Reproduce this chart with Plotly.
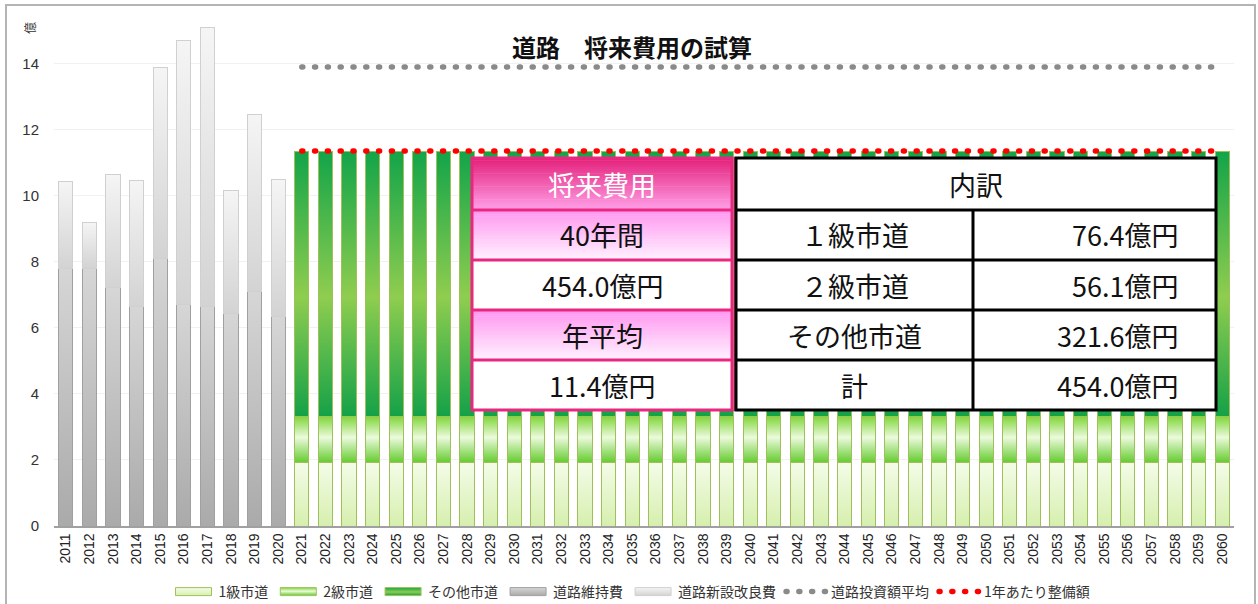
import json
import plotly.graph_objects as go

# ---- data -------------------------------------------------------------
past_years = ["2011", "2012", "2013", "2014", "2015", "2016", "2017", "2018", "2019", "2020"]
future_years = [str(y) for y in range(2021, 2061)]

# actual spending 2011-2020 (億円)
maintenance = [7.81, 7.81, 7.21, 6.66, 8.11, 6.72, 6.66, 6.42, 7.11, 6.33]
new_construction = [2.61, 1.39, 3.43, 3.80, 5.77, 7.99, 8.43, 3.74, 5.35, 4.17]

# projected annual cost 2021-2060 (億円)
grade1 = [1.91, 1.91, 1.91, 1.91, 1.91, 1.91, 1.91, 1.91, 1.91, 1.91,
          1.91, 1.91, 1.91, 1.91, 1.91, 1.91, 1.91, 1.91, 1.91, 1.91,
          1.91, 1.91, 1.91, 1.91, 1.91, 1.91, 1.91, 1.91, 1.91, 1.91,
          1.91, 1.91, 1.91, 1.91, 1.91, 1.91, 1.91, 1.91, 1.91, 1.91]
grade2 = [1.4015, 1.4015, 1.4015, 1.4015, 1.4015, 1.4015, 1.4015, 1.4015, 1.4015, 1.4015,
          1.4015, 1.4015, 1.4015, 1.4015, 1.4015, 1.4015, 1.4015, 1.4015, 1.4015, 1.4015,
          1.4015, 1.4015, 1.4015, 1.4015, 1.4015, 1.4015, 1.4015, 1.4015, 1.4015, 1.4015,
          1.4015, 1.4015, 1.4015, 1.4015, 1.4015, 1.4015, 1.4015, 1.4015, 1.4015, 1.4015]
other_roads = [8.0395, 8.0395, 8.0395, 8.0395, 8.0395, 8.0395, 8.0395, 8.0395, 8.0395, 8.0395,
               8.0395, 8.0395, 8.0395, 8.0395, 8.0395, 8.0395, 8.0395, 8.0395, 8.0395, 8.0395,
               8.0395, 8.0395, 8.0395, 8.0395, 8.0395, 8.0395, 8.0395, 8.0395, 8.0395, 8.0395,
               8.0395, 8.0395, 8.0395, 8.0395, 8.0395, 8.0395, 8.0395, 8.0395, 8.0395, 8.0395]

investment_average = 13.9  # 道路投資額平均

# summary figures for the table
grade1_total = sum(grade1)
grade2_total = sum(grade2)
other_total = sum(other_roads)
grand_total = grade1_total + grade2_total + other_total
n_years = len(future_years)
annual_cost = grand_total / n_years

# ---- layout geometry ---------------------------------------------------
W, H = 1258, 604
ML, MR, MT, MB = 54, 24, 24, 78
PW, PH = W - ML - MR, H - MT - MB
Y_MAX = 15.2


def fx(px):
    return (px - ML) / PW


def fy(py):
    return (H - MB - py) / PH


TEXT_FONT = "Noto Sans CJK JP"
PINK = "rgb(233,38,128)"

# gradient stops for bar fills: 1級, 2級, その他, 維持費, 新設改良費
bar_gradients = [
    [[0, "#f4fce8"], [1, "#d6efae"]],
    [[0, "#7fd63a"], [0.45, "#ecfadc"], [1, "#62ca2c"]],
    [[0, "#12a449"], [0.55, "#8fcd4f"], [1, "#14a148"]],
    [[0, "#d6d6d6"], [1, "#aaaaaa"]],
    [[0, "#f5f5f5"], [1, "#d3d3d3"]],
]

fig = go.Figure()

green_edge = dict(color="rgb(160,192,92)", width=1)
gray_edge = dict(color="#a0a0a0", width=1)

fig.add_trace(go.Bar(x=future_years, y=grade1, name="1級市道",
                     marker=dict(color="#e6f6c8", line=green_edge)))
fig.add_trace(go.Bar(x=future_years, y=grade2, name="2級市道",
                     marker=dict(color="#a8e070", line=green_edge)))
fig.add_trace(go.Bar(x=future_years, y=other_roads, name="その他市道",
                     marker=dict(color="#3fae4a", line=green_edge)))
fig.add_trace(go.Bar(x=past_years, y=maintenance, name="道路維持費",
                     marker=dict(color="#c4c4c4", line=gray_edge)))
fig.add_trace(go.Bar(x=past_years, y=new_construction, name="道路新設改良費",
                     marker=dict(color="#e6e6e6", line=dict(color="#d0d0d0", width=1))))

fig.add_trace(go.Scatter(x=future_years, y=[investment_average] * n_years, name="道路投資額平均",
                         mode="lines", line=dict(color="#8a8a8a", width=5.5, dash="1px,11.8px")))
fig.add_trace(go.Scatter(x=future_years, y=[annual_cost] * n_years, name="1年あたり整備額",
                         mode="lines", line=dict(color="#ff0000", width=5.5, dash="1px,11.8px")))

shapes = []
annotations = []

# outer frame of the chart
shapes.append(dict(type="rect", xref="paper", yref="paper",
                   x0=fx(6), x1=fx(1255), y0=fy(612), y1=fy(5),
                   line=dict(color="#b4b4b4", width=2), fillcolor="rgba(0,0,0,0)", layer="below"))


def mix(c1, c2, t):
    return "rgb(%d,%d,%d)" % tuple(round(a + (b - a) * t) for a, b in zip(c1, c2))


def gradient_cell(x0, y0, x1, y1, top, bottom, n=24):
    h = (y1 - y0) / n
    for k in range(n):
        shapes.append(dict(type="rect", xref="paper", yref="paper", layer="above",
                           x0=fx(x0), x1=fx(x1), y0=fy(y0 + (k + 1) * h + 0.6), y1=fy(y0 + k * h),
                           line=dict(width=0), fillcolor=mix(top, bottom, (k + 0.5) / n)))


def rect(x0, y0, x1, y1, color, width, fill="rgba(0,0,0,0)"):
    shapes.append(dict(type="rect", xref="paper", yref="paper", layer="above",
                       x0=fx(x0), x1=fx(x1), y0=fy(y1), y1=fy(y0),
                       line=dict(color=color, width=width), fillcolor=fill))


def hline(x0, x1, y, color, width):
    shapes.append(dict(type="line", xref="paper", yref="paper", layer="above",
                       x0=fx(x0), x1=fx(x1), y0=fy(y), y1=fy(y),
                       line=dict(color=color, width=width)))


def vline(x, y0, y1, color, width):
    shapes.append(dict(type="line", xref="paper", yref="paper", layer="above",
                       x0=fx(x), x1=fx(x), y0=fy(y0), y1=fy(y1),
                       line=dict(color=color, width=width)))


def text(x, y, s, color="#111111", size=27, anchor="center"):
    annotations.append(dict(xref="paper", yref="paper", x=fx(x), y=fy(y), text=s,
                            showarrow=False, xanchor=anchor, yanchor="middle",
                            font=dict(family=TEXT_FONT, size=size, color=color)))


# left block: 将来費用
row_edges = [158, 210, 260, 310, 360, 410]
LX0, LX1 = 472, 732
rect(LX0, 158, LX1, 410, PINK, 1, fill="white")
gradient_cell(LX0, 158, LX1, 210, (228, 32, 122), (255, 160, 232))
gradient_cell(LX0, 210, LX1, 260, (255, 150, 240), (255, 242, 255))
gradient_cell(LX0, 310, LX1, 360, (255, 150, 240), (255, 242, 255))
rect(LX0, 158, LX1, 410, PINK, 3)
for yy in row_edges[1:-1]:
    hline(LX0, LX1, yy, PINK, 3)
vline(734.5, 157, 411, PINK, 1.5)

# right block: 内訳
RX0, RX1, RMID = 736, 1216, 973
rect(RX0, 158, RX1, 410, "black", 3, fill="white")
for yy in row_edges[1:-1]:
    hline(RX0, RX1, yy, "black", 3)
vline(RMID, 210, 410, "black", 3)

LC = (LX0 + LX1) / 2
MC = (RX0 + RMID) / 2
text(LC, 184, "将来費用", color="white")
text(LC, 235, f"{n_years}年間")
text(LC, 285, f"{grand_total:.1f}億円")
text(LC, 335, "年平均")
text(LC, 385, f"{annual_cost:.1f}億円")

text((RX0 + RX1) / 2, 184, "内訳")
breakdown = [("１級市道", grade1_total), ("２級市道", grade2_total),
             ("その他市道", other_total), ("計", grand_total)]
for (label, val), yc in zip(breakdown, [235, 285, 335, 385]):
    text(MC, yc, label)
    text(1180, yc, f"{val:.1f}億円", anchor="right")

# unit label on the value axis
annotations.append(dict(xref="paper", yref="paper", x=fx(30), y=fy(28), text="億",
                        showarrow=False, textangle=-90, xanchor="center", yanchor="middle",
                        font=dict(family=TEXT_FONT, size=12, color="#333333")))

fig.update_layout(
    width=W, height=H,
    margin=dict(l=ML, r=MR, t=MT, b=MB),
    paper_bgcolor="white", plot_bgcolor="white",
    barmode="stack", bargap=0.4,
    title=dict(text="<b>道路　将来費用の試算</b>", x=632 / W, xref="container", xanchor="center",
               y=1 - 49 / H, yref="container", yanchor="middle",
               font=dict(family=TEXT_FONT, size=24, color="#111111")),
    font=dict(family="Liberation Sans, Arial, sans-serif", color="#333333"),
    xaxis=dict(type="category", categoryorder="array", categoryarray=past_years + future_years,
               tickangle=-90, tickfont=dict(size=14, color="#222222"),
               showline=True, linecolor="#a0a0a0", linewidth=1.5,
               showgrid=False, ticks="", fixedrange=True),
    yaxis=dict(range=[0, Y_MAX], dtick=2, tick0=0, showgrid=True, gridcolor="#f1f1f1",
               zeroline=False, showline=False, ticks="", ticklabelstandoff=14,
               tickfont=dict(size=15, color="#333333")),
    legend=dict(orientation="h", xref="container", yref="container",
                x=632 / W, xanchor="center", y=1 - 592 / H, yanchor="middle",
                traceorder="normal", font=dict(family=TEXT_FONT, size=14, color="#333333"),
                itemwidth=40, tracegroupgap=0),
    shapes=shapes,
    annotations=annotations,
    showlegend=True,
)

post_js = """
var gd = document.getElementById('{plot_id}');
var ns = 'http://www.w3.org/2000/svg';
var svg = gd.querySelector('svg.main-svg');
var defs = document.createElementNS(ns, 'defs');
svg.insertBefore(defs, svg.firstChild);
var grads = GRADS;
grads.forEach(function(stops, i){
  var g = document.createElementNS(ns, 'linearGradient');
  g.setAttribute('id', 'barfill' + i);
  g.setAttribute('x1','0'); g.setAttribute('y1','0');
  g.setAttribute('x2','0'); g.setAttribute('y2','1');
  stops.forEach(function(s){
    var st = document.createElementNS(ns, 'stop');
    st.setAttribute('offset', s[0]); st.setAttribute('stop-color', s[1]);
    g.appendChild(st);
  });
  defs.appendChild(g);
});
gd.querySelectorAll('.barlayer .trace').forEach(function(t, i){
  t.querySelectorAll('path').forEach(function(p){ p.style.fill = 'url(#barfill' + i + ')'; });
});
gd.querySelectorAll('.legend .traces').forEach(function(t, i){
  if (i < grads.length) {
    t.querySelectorAll('.legendpoints path').forEach(function(p){
      p.setAttribute('d', 'M18,4H-18V-4H18Z');
      p.style.fill = 'url(#barfill' + i + ')';
    });
  } else {
    t.querySelectorAll('.legendlines path').forEach(function(p){ p.style.strokeLinecap = 'round'; });
  }
});
gd.querySelectorAll('.scatterlayer .trace path.js-line').forEach(function(p){ p.style.strokeLinecap = 'round'; });
""".replace("GRADS", json.dumps(bar_gradients))

fig.write_html("out.html", post_script=post_js, config={"displayModeBar": False})
